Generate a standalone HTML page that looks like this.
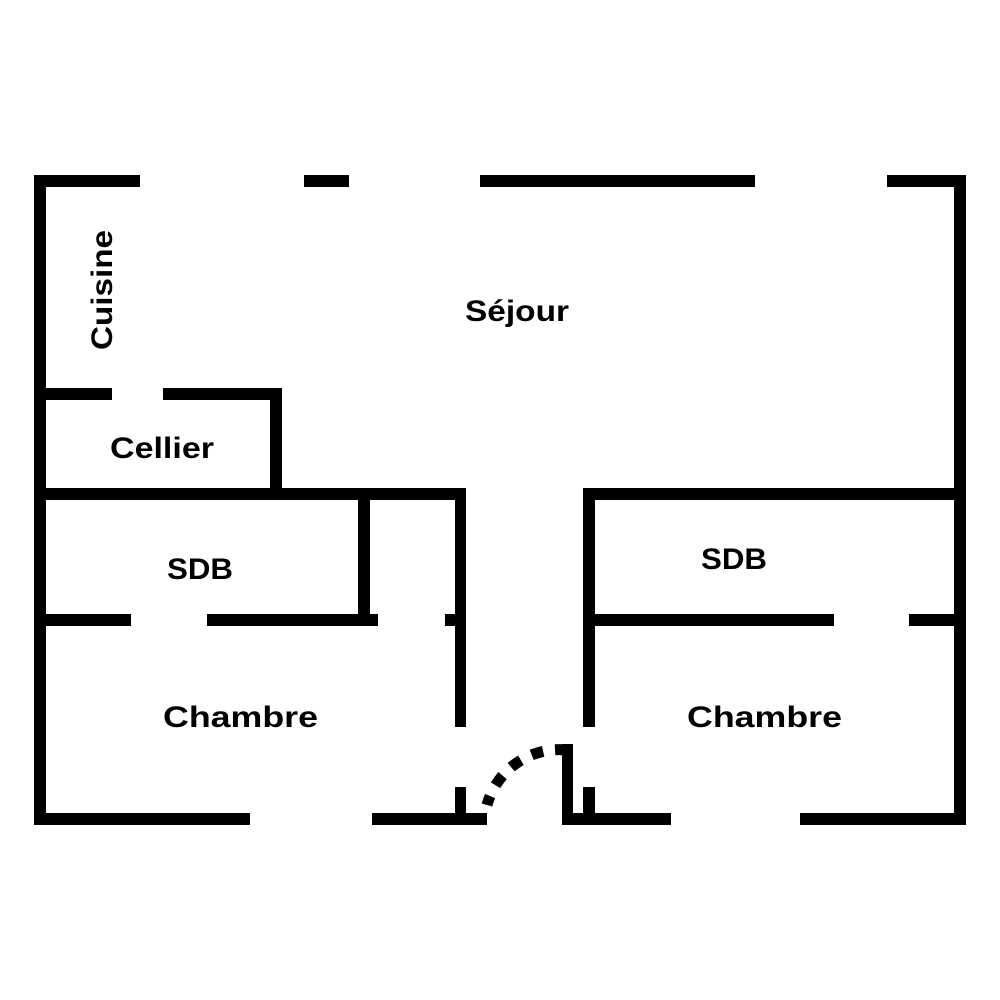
<!DOCTYPE html>
<html><head><meta charset="utf-8"><style>
html,body{margin:0;padding:0;background:#fff;}
svg{display:block;}
text{font-family:"Liberation Sans",sans-serif;font-weight:bold;font-size:30px;fill:#000;}
</style></head><body>
<svg width="1000" height="1000" viewBox="0 0 1000 1000">
<g fill="#000">
<rect x="34" y="175" width="106" height="12"/>
<rect x="304" y="175" width="45" height="12"/>
<rect x="480" y="175" width="275" height="12"/>
<rect x="887" y="175" width="79" height="12"/>
<rect x="34" y="175" width="12" height="650"/>
<rect x="954" y="175" width="12" height="650"/>
<rect x="46" y="388" width="66" height="12"/>
<rect x="163" y="388" width="119" height="12"/>
<rect x="270" y="388" width="12" height="102"/>
<rect x="34" y="488" width="432" height="12"/>
<rect x="358" y="500" width="12" height="120"/>
<rect x="455" y="488" width="11" height="239"/>
<rect x="46" y="614" width="85" height="12"/>
<rect x="207" y="614" width="171" height="12"/>
<rect x="445" y="614" width="21" height="12"/>
<rect x="34" y="813" width="216" height="12"/>
<rect x="372" y="813" width="115" height="12"/>
<rect x="455" y="787" width="11" height="26"/>
<rect x="583" y="488" width="383" height="12"/>
<rect x="583" y="488" width="12" height="239"/>
<rect x="595" y="614" width="239" height="12"/>
<rect x="909" y="614" width="57" height="12"/>
<rect x="562" y="744" width="11" height="81"/>
<rect x="562" y="813" width="109" height="12"/>
<rect x="800" y="813" width="166" height="12"/>
<rect x="583" y="787" width="12" height="26"/>
</g>
<path d="M567 750 A75 75 0 0 0 487 805" fill="none" stroke="#000" stroke-width="11" stroke-dasharray="12 12"/>
<text x="465" y="321" textLength="104" lengthAdjust="spacingAndGlyphs">Séjour</text>
<text transform="translate(112,350) rotate(-90)" textLength="120" lengthAdjust="spacingAndGlyphs">Cuisine</text>
<text x="110" y="458" textLength="104" lengthAdjust="spacingAndGlyphs">Cellier</text>
<text x="167" y="579" textLength="66" lengthAdjust="spacingAndGlyphs">SDB</text>
<text x="701" y="569" textLength="66" lengthAdjust="spacingAndGlyphs">SDB</text>
<text x="163" y="727" textLength="155" lengthAdjust="spacingAndGlyphs">Chambre</text>
<text x="687" y="727" textLength="155" lengthAdjust="spacingAndGlyphs">Chambre</text>
</svg>
</body></html>
